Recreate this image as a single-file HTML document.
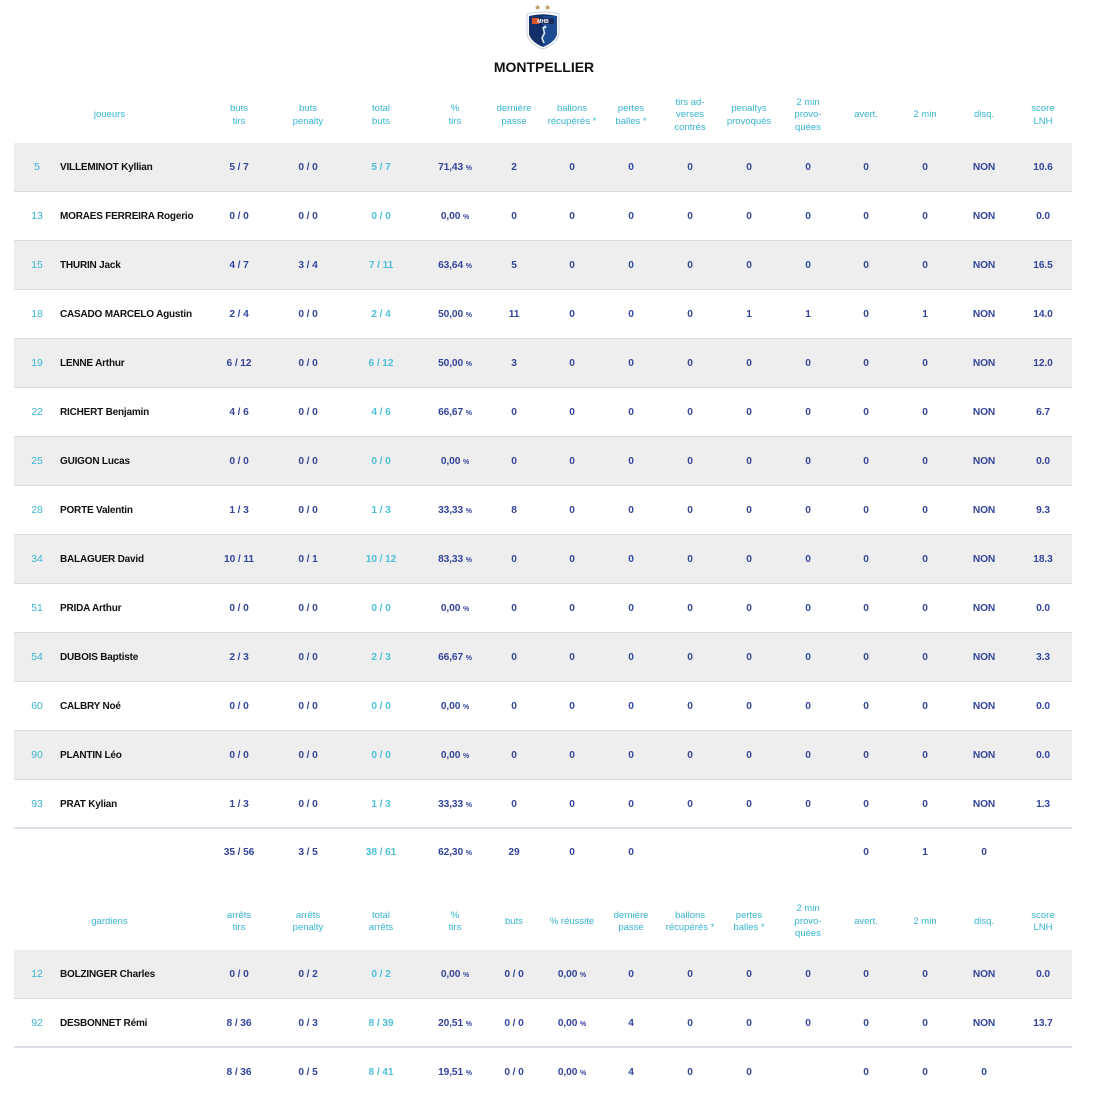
<!DOCTYPE html>
<html><head><meta charset="utf-8">
<style>
*{margin:0;padding:0;box-sizing:border-box}
html,body{width:1100px;height:1100px;background:#fff;overflow:hidden;font-family:"Liberation Sans",Arial,sans-serif}
.title{position:absolute;top:58px;left:-6px;width:1100px;text-align:center;font-weight:bold;font-size:14px;color:#111;line-height:18px}
.logo{position:absolute;left:519px;top:0}
.hd{position:absolute;left:14px;width:1058px;height:55px}
.hd span{position:absolute;top:0;height:100%;width:70px;display:flex;align-items:center;justify-content:center;text-align:center;font-size:9.5px;line-height:12.5px;color:#36b4d1}
.hd span.jn{left:0;width:191px}
.r{position:absolute;left:14px;width:1058px;height:49px;border-bottom:1px solid #d6dce4}
.r.gy{background:#eeeeee}
.r.tot{border-bottom:none}
.r span{position:absolute;top:0;width:70px;text-align:center;line-height:49px;font-size:10.2px;font-weight:bold;color:#34459b;letter-spacing:-0.1px}
.r span.n{left:3px;width:40px;color:#3ab6d2;font-weight:normal;font-size:10.5px}
.r span.nm{left:46px;width:160px;text-align:left;color:#111;font-size:10px;letter-spacing:-0.2px}
.r span.t{color:#4fc0d9}
.r span small{font-size:7px}
.x1{left:190px}.x2{left:259px}.x3{left:332px}.x4{left:406px}.x5{left:465px}.x6{left:523px}.x7{left:582px}.x8{left:641px}.x9{left:700px}.x10{left:759px}.x11{left:817px}.x12{left:876px}.x13{left:935px}.x14{left:994px}
</style></head><body>
<svg class="logo" width="50" height="52" viewBox="0 0 50 52">
<text x="15" y="10" font-size="8" fill="#b89a5a" font-family="DejaVu Sans">★</text>
<text x="25" y="10" font-size="8" fill="#b89a5a" font-family="DejaVu Sans">★</text>
<path d="M8 14 Q24 10 40 14 L40 34 Q38 44 24 49 Q10 44 8 34 Z" fill="#fff" stroke="#c9d1dc" stroke-width="1"/>
<path d="M10 16 Q24 12.5 38 16 L38 34 Q36 42 24 47 Q12 42 10 34 Z" fill="#14306a"/>
<path d="M24 16 L38 16 L38 34 Q36 42 24 47 Z" fill="#1d4a93"/>
<rect x="13" y="18" width="22" height="6" fill="#1c2f5c"/>
<rect x="13" y="18" width="7" height="6" fill="#e0522c"/>
<text x="24" y="23" font-size="5" fill="#fff" text-anchor="middle" font-family="Liberation Sans" font-weight="bold">MHB</text>
<path d="M24 27 L25.5 33 L23 38 L25 43" stroke="#d9e6f5" stroke-width="1.6" fill="none"/>
<circle cx="26" cy="27" r="1.4" fill="#d9e6f5"/>
</svg>
<div class="title">MONTPELLIER</div>

<div class="hd" style="top:88px">
<span class="jn">joueurs</span>
<span class="x1">buts<br>tirs</span><span class="x2">buts<br>penalty</span><span class="x3">total<br>buts</span><span class="x4">%<br>tirs</span><span class="x5">dernière<br>passe</span><span class="x6">ballons<br>récupérés *</span><span class="x7">pertes<br>balles *</span><span class="x8">tirs ad-<br>verses<br>contrés</span><span class="x9">penaltys<br>provoqués</span><span class="x10">2 min<br>provo-<br>quées</span><span class="x11">avert.</span><span class="x12">2 min</span><span class="x13">disq.</span><span class="x14">score<br>LNH</span>
</div>

<div class="r gy" style="top:143px"><span class="n">5</span><span class="nm">VILLEMINOT Kyllian</span><span class="x1">5 / 7</span><span class="x2">0 / 0</span><span class="x3 t">5 / 7</span><span class="x4">71,43 <small>%</small></span><span class="x5">2</span><span class="x6">0</span><span class="x7">0</span><span class="x8">0</span><span class="x9">0</span><span class="x10">0</span><span class="x11">0</span><span class="x12">0</span><span class="x13">NON</span><span class="x14">10.6</span></div>
<div class="r" style="top:192px"><span class="n">13</span><span class="nm">MORAES FERREIRA Rogerio</span><span class="x1">0 / 0</span><span class="x2">0 / 0</span><span class="x3 t">0 / 0</span><span class="x4">0,00 <small>%</small></span><span class="x5">0</span><span class="x6">0</span><span class="x7">0</span><span class="x8">0</span><span class="x9">0</span><span class="x10">0</span><span class="x11">0</span><span class="x12">0</span><span class="x13">NON</span><span class="x14">0.0</span></div>
<div class="r gy" style="top:241px"><span class="n">15</span><span class="nm">THURIN Jack</span><span class="x1">4 / 7</span><span class="x2">3 / 4</span><span class="x3 t">7 / 11</span><span class="x4">63,64 <small>%</small></span><span class="x5">5</span><span class="x6">0</span><span class="x7">0</span><span class="x8">0</span><span class="x9">0</span><span class="x10">0</span><span class="x11">0</span><span class="x12">0</span><span class="x13">NON</span><span class="x14">16.5</span></div>
<div class="r" style="top:290px"><span class="n">18</span><span class="nm">CASADO MARCELO Agustin</span><span class="x1">2 / 4</span><span class="x2">0 / 0</span><span class="x3 t">2 / 4</span><span class="x4">50,00 <small>%</small></span><span class="x5">11</span><span class="x6">0</span><span class="x7">0</span><span class="x8">0</span><span class="x9">1</span><span class="x10">1</span><span class="x11">0</span><span class="x12">1</span><span class="x13">NON</span><span class="x14">14.0</span></div>
<div class="r gy" style="top:339px"><span class="n">19</span><span class="nm">LENNE Arthur</span><span class="x1">6 / 12</span><span class="x2">0 / 0</span><span class="x3 t">6 / 12</span><span class="x4">50,00 <small>%</small></span><span class="x5">3</span><span class="x6">0</span><span class="x7">0</span><span class="x8">0</span><span class="x9">0</span><span class="x10">0</span><span class="x11">0</span><span class="x12">0</span><span class="x13">NON</span><span class="x14">12.0</span></div>
<div class="r" style="top:388px"><span class="n">22</span><span class="nm">RICHERT Benjamin</span><span class="x1">4 / 6</span><span class="x2">0 / 0</span><span class="x3 t">4 / 6</span><span class="x4">66,67 <small>%</small></span><span class="x5">0</span><span class="x6">0</span><span class="x7">0</span><span class="x8">0</span><span class="x9">0</span><span class="x10">0</span><span class="x11">0</span><span class="x12">0</span><span class="x13">NON</span><span class="x14">6.7</span></div>
<div class="r gy" style="top:437px"><span class="n">25</span><span class="nm">GUIGON Lucas</span><span class="x1">0 / 0</span><span class="x2">0 / 0</span><span class="x3 t">0 / 0</span><span class="x4">0,00 <small>%</small></span><span class="x5">0</span><span class="x6">0</span><span class="x7">0</span><span class="x8">0</span><span class="x9">0</span><span class="x10">0</span><span class="x11">0</span><span class="x12">0</span><span class="x13">NON</span><span class="x14">0.0</span></div>
<div class="r" style="top:486px"><span class="n">28</span><span class="nm">PORTE Valentin</span><span class="x1">1 / 3</span><span class="x2">0 / 0</span><span class="x3 t">1 / 3</span><span class="x4">33,33 <small>%</small></span><span class="x5">8</span><span class="x6">0</span><span class="x7">0</span><span class="x8">0</span><span class="x9">0</span><span class="x10">0</span><span class="x11">0</span><span class="x12">0</span><span class="x13">NON</span><span class="x14">9.3</span></div>
<div class="r gy" style="top:535px"><span class="n">34</span><span class="nm">BALAGUER David</span><span class="x1">10 / 11</span><span class="x2">0 / 1</span><span class="x3 t">10 / 12</span><span class="x4">83,33 <small>%</small></span><span class="x5">0</span><span class="x6">0</span><span class="x7">0</span><span class="x8">0</span><span class="x9">0</span><span class="x10">0</span><span class="x11">0</span><span class="x12">0</span><span class="x13">NON</span><span class="x14">18.3</span></div>
<div class="r" style="top:584px"><span class="n">51</span><span class="nm">PRIDA Arthur</span><span class="x1">0 / 0</span><span class="x2">0 / 0</span><span class="x3 t">0 / 0</span><span class="x4">0,00 <small>%</small></span><span class="x5">0</span><span class="x6">0</span><span class="x7">0</span><span class="x8">0</span><span class="x9">0</span><span class="x10">0</span><span class="x11">0</span><span class="x12">0</span><span class="x13">NON</span><span class="x14">0.0</span></div>
<div class="r gy" style="top:633px"><span class="n">54</span><span class="nm">DUBOIS Baptiste</span><span class="x1">2 / 3</span><span class="x2">0 / 0</span><span class="x3 t">2 / 3</span><span class="x4">66,67 <small>%</small></span><span class="x5">0</span><span class="x6">0</span><span class="x7">0</span><span class="x8">0</span><span class="x9">0</span><span class="x10">0</span><span class="x11">0</span><span class="x12">0</span><span class="x13">NON</span><span class="x14">3.3</span></div>
<div class="r" style="top:682px"><span class="n">60</span><span class="nm">CALBRY Noé</span><span class="x1">0 / 0</span><span class="x2">0 / 0</span><span class="x3 t">0 / 0</span><span class="x4">0,00 <small>%</small></span><span class="x5">0</span><span class="x6">0</span><span class="x7">0</span><span class="x8">0</span><span class="x9">0</span><span class="x10">0</span><span class="x11">0</span><span class="x12">0</span><span class="x13">NON</span><span class="x14">0.0</span></div>
<div class="r gy" style="top:731px"><span class="n">90</span><span class="nm">PLANTIN Léo</span><span class="x1">0 / 0</span><span class="x2">0 / 0</span><span class="x3 t">0 / 0</span><span class="x4">0,00 <small>%</small></span><span class="x5">0</span><span class="x6">0</span><span class="x7">0</span><span class="x8">0</span><span class="x9">0</span><span class="x10">0</span><span class="x11">0</span><span class="x12">0</span><span class="x13">NON</span><span class="x14">0.0</span></div>
<div class="r" style="top:780px;border-bottom:2px solid #dce0e6"><span class="n">93</span><span class="nm">PRAT Kylian</span><span class="x1">1 / 3</span><span class="x2">0 / 0</span><span class="x3 t">1 / 3</span><span class="x4">33,33 <small>%</small></span><span class="x5">0</span><span class="x6">0</span><span class="x7">0</span><span class="x8">0</span><span class="x9">0</span><span class="x10">0</span><span class="x11">0</span><span class="x12">0</span><span class="x13">NON</span><span class="x14">1.3</span></div>
<div class="r tot" style="top:828px"><span class="x1">35 / 56</span><span class="x2">3 / 5</span><span class="x3 t">38 / 61</span><span class="x4">62,30 <small>%</small></span><span class="x5">29</span><span class="x6">0</span><span class="x7">0</span><span class="x11">0</span><span class="x12">1</span><span class="x13">0</span></div>

<div class="hd" style="top:894px;height:56px">
<span class="jn">gardiens</span>
<span class="x1">arrêts<br>tirs</span><span class="x2">arrêts<br>penalty</span><span class="x3">total<br>arrêts</span><span class="x4">%<br>tirs</span><span class="x5">buts</span><span class="x6">% réussite</span><span class="x7">dernière<br>passe</span><span class="x8">ballons<br>récupérés *</span><span class="x9">pertes<br>balles *</span><span class="x10">2 min<br>provo-<br>quées</span><span class="x11">avert.</span><span class="x12">2 min</span><span class="x13">disq.</span><span class="x14">score<br>LNH</span>
</div>

<div class="r gy" style="top:950px"><span class="n">12</span><span class="nm">BOLZINGER Charles</span><span class="x1">0 / 0</span><span class="x2">0 / 2</span><span class="x3 t">0 / 2</span><span class="x4">0,00 <small>%</small></span><span class="x5">0 / 0</span><span class="x6">0,00 <small>%</small></span><span class="x7">0</span><span class="x8">0</span><span class="x9">0</span><span class="x10">0</span><span class="x11">0</span><span class="x12">0</span><span class="x13">NON</span><span class="x14">0.0</span></div>
<div class="r" style="top:999px;border-bottom:2px solid #dce0e6"><span class="n">92</span><span class="nm">DESBONNET Rémi</span><span class="x1">8 / 36</span><span class="x2">0 / 3</span><span class="x3 t">8 / 39</span><span class="x4">20,51 <small>%</small></span><span class="x5">0 / 0</span><span class="x6">0,00 <small>%</small></span><span class="x7">4</span><span class="x8">0</span><span class="x9">0</span><span class="x10">0</span><span class="x11">0</span><span class="x12">0</span><span class="x13">NON</span><span class="x14">13.7</span></div>
<div class="r tot" style="top:1048px"><span class="x1">8 / 36</span><span class="x2">0 / 5</span><span class="x3 t">8 / 41</span><span class="x4">19,51 <small>%</small></span><span class="x5">0 / 0</span><span class="x6">0,00 <small>%</small></span><span class="x7">4</span><span class="x8">0</span><span class="x9">0</span><span class="x11">0</span><span class="x12">0</span><span class="x13">0</span></div>
</body></html>
